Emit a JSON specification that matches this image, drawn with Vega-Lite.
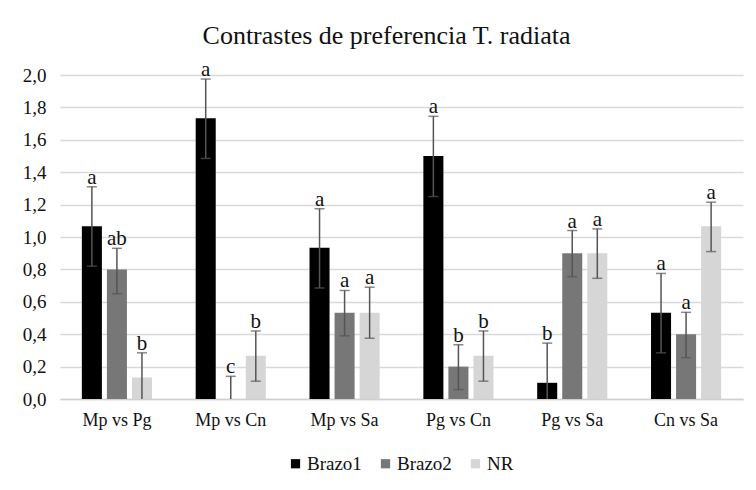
{
  "$schema": "https://vega.github.io/schema/vega-lite/v6.json",
  "autosize": "none",
  "width": 683,
  "height": 324,
  "padding": {"left": 60, "top": 75, "right": 13, "bottom": 91},
  "background": "white",
  "title": {"text": "Contrastes de preferencia T. radiata", "font": "Liberation Serif", "fontSize": 26, "fontWeight": "normal", "color": "#111", "anchor": "middle", "offset": 10, "dx": -15},
  "data": {"values": [
    {"g": "Mp vs Pg", "s": "Brazo1", "v": 1.067, "lo": 0.82, "hi": 1.31, "cap": 0.82, "lab": "a"},
    {"g": "Mp vs Pg", "s": "Brazo2", "v": 0.8, "lo": 0.65, "hi": 0.93, "cap": 0.65, "lab": "ab"},
    {"g": "Mp vs Pg", "s": "NR", "v": 0.133, "lo": 0, "hi": 0.285, "cap": null, "lab": "b"},
    {"g": "Mp vs Cn", "s": "Brazo1", "v": 1.733, "lo": 1.485, "hi": 1.975, "cap": 1.485, "lab": "a"},
    {"g": "Mp vs Cn", "s": "Brazo2", "v": 0, "lo": 0, "hi": 0.14, "cap": null, "lab": "c"},
    {"g": "Mp vs Cn", "s": "NR", "v": 0.267, "lo": 0.11, "hi": 0.42, "cap": 0.11, "lab": "b"},
    {"g": "Mp vs Sa", "s": "Brazo1", "v": 0.933, "lo": 0.685, "hi": 1.175, "cap": 0.685, "lab": "a"},
    {"g": "Mp vs Sa", "s": "Brazo2", "v": 0.533, "lo": 0.39, "hi": 0.67, "cap": 0.39, "lab": "a"},
    {"g": "Mp vs Sa", "s": "NR", "v": 0.533, "lo": 0.375, "hi": 0.69, "cap": 0.375, "lab": "a"},
    {"g": "Pg vs Cn", "s": "Brazo1", "v": 1.5, "lo": 1.25, "hi": 1.745, "cap": 1.25, "lab": "a"},
    {"g": "Pg vs Cn", "s": "Brazo2", "v": 0.2, "lo": 0.058, "hi": 0.335, "cap": 0.058, "lab": "b"},
    {"g": "Pg vs Cn", "s": "NR", "v": 0.267, "lo": 0.11, "hi": 0.42, "cap": 0.11, "lab": "b"},
    {"g": "Pg vs Sa", "s": "Brazo1", "v": 0.1, "lo": 0, "hi": 0.345, "cap": null, "lab": "b"},
    {"g": "Pg vs Sa", "s": "Brazo2", "v": 0.9, "lo": 0.755, "hi": 1.04, "cap": 0.755, "lab": "a"},
    {"g": "Pg vs Sa", "s": "NR", "v": 0.9, "lo": 0.745, "hi": 1.05, "cap": 0.745, "lab": "a"},
    {"g": "Cn vs Sa", "s": "Brazo1", "v": 0.533, "lo": 0.285, "hi": 0.775, "cap": 0.285, "lab": "a"},
    {"g": "Cn vs Sa", "s": "Brazo2", "v": 0.4, "lo": 0.255, "hi": 0.535, "cap": 0.255, "lab": "a"},
    {"g": "Cn vs Sa", "s": "NR", "v": 1.067, "lo": 0.91, "hi": 1.215, "cap": 0.91, "lab": "a"}
  ]},
  "encoding": {
    "x": {"field": "g", "type": "nominal", "sort": null, "title": null,
      "scale": {"paddingInner": 0.34, "paddingOuter": 0.17},
      "axis": {"labelAngle": 0, "labelFont": "Liberation Serif", "labelFontSize": 18, "labelColor": "#111", "labelPadding": 12, "ticks": false, "domainColor": "#d0d0d0", "domainWidth": 1.5, "grid": false}},
    "xOffset": {"field": "s", "type": "nominal", "sort": ["Brazo1", "Brazo2", "NR"], "scale": {"paddingInner": 0.2, "paddingOuter": 0.1}}
  },
  "layer": [
    {
      "mark": {"type": "bar"},
      "encoding": {
        "y": {"field": "v", "type": "quantitative", "title": null, "scale": {"domain": [0, 2]}},
        "color": {"field": "s", "type": "nominal", "sort": ["Brazo1", "Brazo2", "NR"],
          "scale": {"domain": ["Brazo1", "Brazo2", "NR"], "range": ["#000000", "#777777", "#d6d6d6"]},
          "legend": {"title": null, "orient": "none", "legendX": 226, "legendY": 379, "direction": "horizontal", "symbolType": "square", "symbolSize": 85, "symbolStrokeWidth": 0, "labelFont": "Liberation Serif", "labelFontSize": 19, "labelColor": "#111", "columnPadding": 14, "labelOffset": 2}}
      }
    },
    {
      "mark": {"type": "rule", "color": "#555555", "strokeWidth": 1.5},
      "encoding": {"y": {"field": "lo", "type": "quantitative", "title": null}, "y2": {"field": "hi"}}
    },
    {
      "mark": {"type": "tick", "color": "#555555", "thickness": 1.5, "size": 10},
      "encoding": {"y": {"field": "hi", "type": "quantitative", "title": null}}
    },
    {
      "mark": {"type": "tick", "color": "#555555", "thickness": 1.5, "size": 10},
      "encoding": {"y": {"field": "cap", "type": "quantitative", "title": null}}
    },
    {
      "mark": {"type": "text", "baseline": "alphabetic", "dy": -3, "font": "Liberation Serif", "fontSize": 21, "color": "#111"},
      "encoding": {"y": {"field": "hi", "type": "quantitative", "title": null}, "text": {"field": "lab"}}
    }
  ],
  "config": {
    "view": {"stroke": null},
    "font": "Liberation Serif",
    "axisY": {"tickCount": 10, "labelOverlap": false, "labelExpr": "replace(format(datum.value, '.1f'), '.', ',')", "labelFont": "Liberation Serif", "labelFontSize": 19, "labelColor": "#111", "labelPadding": 14, "ticks": false, "domain": false, "gridColor": "#d9d9d9", "gridWidth": 1.5}
  }
}
